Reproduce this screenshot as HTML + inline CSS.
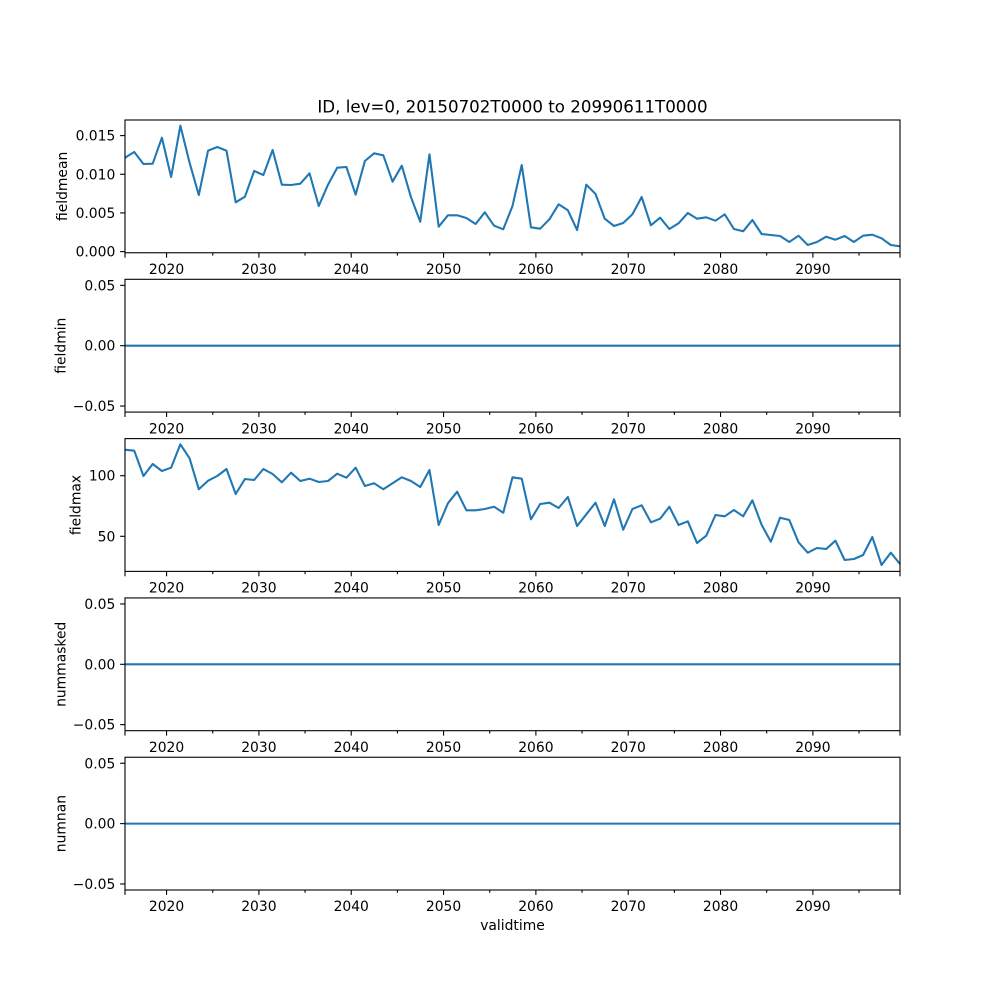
<!DOCTYPE html>
<html><head><meta charset="utf-8"><style>
html,body{margin:0;padding:0;background:#fff;}
svg{display:block;}
text{font-family:"DejaVu Sans","Liberation Sans",sans-serif;fill:#000;}
</style></head><body>
<svg width="1000" height="1000" viewBox="0 0 1000 1000" xmlns="http://www.w3.org/2000/svg">
<rect width="1000" height="1000" fill="#fff"/>
<defs>
<g id="xt">
<g stroke="#000" stroke-width="1.1">
<line x1="125" y1="0" x2="125" y2="4.9"/>
<line x1="166.56" y1="0" x2="166.56" y2="4.9"/>
<line x1="258.9" y1="0" x2="258.9" y2="4.9"/>
<line x1="351.22" y1="0" x2="351.22" y2="4.9"/>
<line x1="443.56" y1="0" x2="443.56" y2="4.9"/>
<line x1="535.88" y1="0" x2="535.88" y2="4.9"/>
<line x1="628.22" y1="0" x2="628.22" y2="4.9"/>
<line x1="720.54" y1="0" x2="720.54" y2="4.9"/>
<line x1="812.88" y1="0" x2="812.88" y2="4.9"/>
<line x1="900" y1="0" x2="900" y2="4.9"/>
<line x1="212.74" y1="0" x2="212.74" y2="2.8"/>
<line x1="305.06" y1="0" x2="305.06" y2="2.8"/>
<line x1="397.39" y1="0" x2="397.39" y2="2.8"/>
<line x1="489.72" y1="0" x2="489.72" y2="2.8"/>
<line x1="582.05" y1="0" x2="582.05" y2="2.8"/>
<line x1="674.38" y1="0" x2="674.38" y2="2.8"/>
<line x1="766.71" y1="0" x2="766.71" y2="2.8"/>
<line x1="859.05" y1="0" x2="859.05" y2="2.8"/>
</g>
<g font-size="13.89" text-anchor="middle">
<text x="166.56" y="21.2">2020</text>
<text x="258.9" y="21.2">2030</text>
<text x="351.22" y="21.2">2040</text>
<text x="443.56" y="21.2">2050</text>
<text x="535.88" y="21.2">2060</text>
<text x="628.22" y="21.2">2070</text>
<text x="720.54" y="21.2">2080</text>
<text x="812.88" y="21.2">2090</text>
</g>
</g>
<g id="flat">
<line x1="125" y1="66.38" x2="900" y2="66.38" stroke="#1f77b4" stroke-width="2.08"/>
<g stroke="#000" stroke-width="1.1">
<line x1="120.1" y1="6.03" x2="125" y2="6.03"/>
<line x1="120.1" y1="66.38" x2="125" y2="66.38"/>
<line x1="120.1" y1="126.73" x2="125" y2="126.73"/>
</g>
<g font-size="13.89" text-anchor="end">
<text x="115.3" y="11.1">0.05</text>
<text x="115.3" y="71.4">0.00</text>
<text x="115.3" y="131.8">−0.05</text>
</g>
<rect x="125" y="0" width="775" height="132.76" fill="none" stroke="#000" stroke-width="1.1"/>
<use href="#xt" y="132.76"/>
</g>
</defs>

<text x="512.5" y="112.5" font-size="16.67" text-anchor="middle">ID, lev=0, 20150702T0000 to 20990611T0000</text>

<!-- Panel 1 fieldmean -->
<polyline fill="none" stroke="#1f77b4" stroke-width="2.08" stroke-linejoin="round" points="125.00,157.7 134.23,152.0 143.45,164.0 152.68,163.7 161.90,137.7 171.13,177.0 180.36,125.7 189.58,162.7 198.81,195.0 208.04,150.7 217.26,147.0 226.49,150.7 235.71,202.3 244.94,196.7 254.17,171.0 263.39,175.0 272.62,150.0 281.85,184.7 291.07,185.0 300.30,183.7 309.52,173.3 318.75,206.0 327.98,184.7 337.20,167.7 346.43,167.0 355.65,194.7 364.88,161.0 374.11,153.3 383.33,155.3 392.56,181.7 401.79,165.7 411.01,197.3 420.24,221.7 429.46,154.3 438.69,226.7 447.92,215.3 457.14,215.3 466.37,218.0 475.60,224.0 484.82,212.3 494.05,225.7 503.27,229.3 512.50,206.0 521.73,165.0 530.95,227.3 540.18,228.7 549.40,219.3 558.63,204.3 567.86,210.3 577.08,230.0 586.31,184.7 595.54,194.0 604.76,218.7 613.99,226.0 623.21,223.0 632.44,214.3 641.67,197.0 650.89,225.3 660.12,217.7 669.35,229.0 678.57,223.3 687.80,213.0 697.02,218.7 706.25,217.3 715.48,220.7 724.70,214.3 733.93,229.0 743.15,231.3 752.38,220.0 761.61,234.0 770.83,235.0 780.06,236.0 789.29,242.0 798.51,235.7 807.74,245.0 816.96,242.0 826.19,236.7 835.42,239.7 844.64,236.0 853.87,242.0 863.10,235.7 872.32,234.7 881.55,238.3 890.77,245.0 900.00,246.3"/>
<g stroke="#000" stroke-width="1.1">
<line x1="120.1" y1="251.6" x2="125" y2="251.6"/>
<line x1="120.1" y1="212.93" x2="125" y2="212.93"/>
<line x1="120.1" y1="174.26" x2="125" y2="174.26"/>
<line x1="120.1" y1="135.6" x2="125" y2="135.6"/>
</g>
<g font-size="13.89" text-anchor="end">
<text x="115.3" y="256.6">0.000</text>
<text x="115.3" y="217.9">0.005</text>
<text x="115.3" y="179.3">0.010</text>
<text x="115.3" y="140.6">0.015</text>
</g>
<rect x="125" y="120" width="775" height="132.76" fill="none" stroke="#000" stroke-width="1.1"/>
<use href="#xt" y="252.76"/>
<text transform="translate(67.2,186.4) rotate(-90)" font-size="13.89" text-anchor="middle">fieldmean</text>

<!-- Panel 2 fieldmin -->
<use href="#flat" y="279.31"/>
<text transform="translate(65.5,345.7) rotate(-90)" font-size="13.89" text-anchor="middle">fieldmin</text>

<!-- Panel 3 fieldmax -->
<polyline fill="none" stroke="#1f77b4" stroke-width="2.08" stroke-linejoin="round" points="125.00,449.7 134.23,450.7 143.45,476.0 152.68,464.0 161.90,471.0 171.13,467.7 180.36,444.3 189.58,458.3 198.81,489.3 208.04,480.7 217.26,476.0 226.49,469.0 235.71,494.0 244.94,479.0 254.17,480.0 263.39,469.0 272.62,474.0 281.85,482.3 291.07,472.7 300.30,481.0 309.52,478.7 318.75,482.0 327.98,481.0 337.20,473.7 346.43,477.7 355.65,467.7 364.88,486.0 374.11,483.3 383.33,489.3 392.56,483.3 401.79,477.3 411.01,481.0 420.24,487.0 429.46,470.0 438.69,525.0 447.92,503.3 457.14,491.7 466.37,510.3 475.60,510.3 484.82,509.0 494.05,506.7 503.27,512.7 512.50,477.3 521.73,478.7 530.95,519.3 540.18,504.0 549.40,502.7 558.63,508.0 567.86,497.0 577.08,526.0 586.31,514.3 595.54,502.7 604.76,526.0 613.99,499.3 623.21,529.7 632.44,509.0 641.67,505.3 650.89,522.3 660.12,518.7 669.35,506.7 678.57,525.0 687.80,521.3 697.02,543.0 706.25,535.7 715.48,515.0 724.70,516.3 733.93,510.0 743.15,516.3 752.38,500.3 761.61,524.7 770.83,541.7 780.06,517.7 789.29,520.0 798.51,542.3 807.74,552.7 816.96,548.0 826.19,549.0 835.42,540.7 844.64,560.0 853.87,559.0 863.10,555.0 872.32,537.0 881.55,565.0 890.77,552.7 900.00,564.0"/>
<g stroke="#000" stroke-width="1.1">
<line x1="120.1" y1="536.3" x2="125" y2="536.3"/>
<line x1="120.1" y1="475.7" x2="125" y2="475.7"/>
</g>
<g font-size="13.89" text-anchor="end">
<text x="115.3" y="541.3">50</text>
<text x="115.3" y="480.7">100</text>
</g>
<rect x="125" y="438.62" width="775" height="132.76" fill="none" stroke="#000" stroke-width="1.1"/>
<use href="#xt" y="571.38"/>
<text transform="translate(80.5,505) rotate(-90)" font-size="13.89" text-anchor="middle">fieldmax</text>

<!-- Panel 4 nummasked -->
<use href="#flat" y="597.93"/>
<text transform="translate(65.5,664.3) rotate(-90)" font-size="13.89" text-anchor="middle">nummasked</text>

<!-- Panel 5 numnan -->
<use href="#flat" y="757.24"/>
<text transform="translate(65.5,823.6) rotate(-90)" font-size="13.89" text-anchor="middle">numnan</text>

<text x="512.5" y="930" font-size="13.89" text-anchor="middle">validtime</text>
</svg>
</body></html>
